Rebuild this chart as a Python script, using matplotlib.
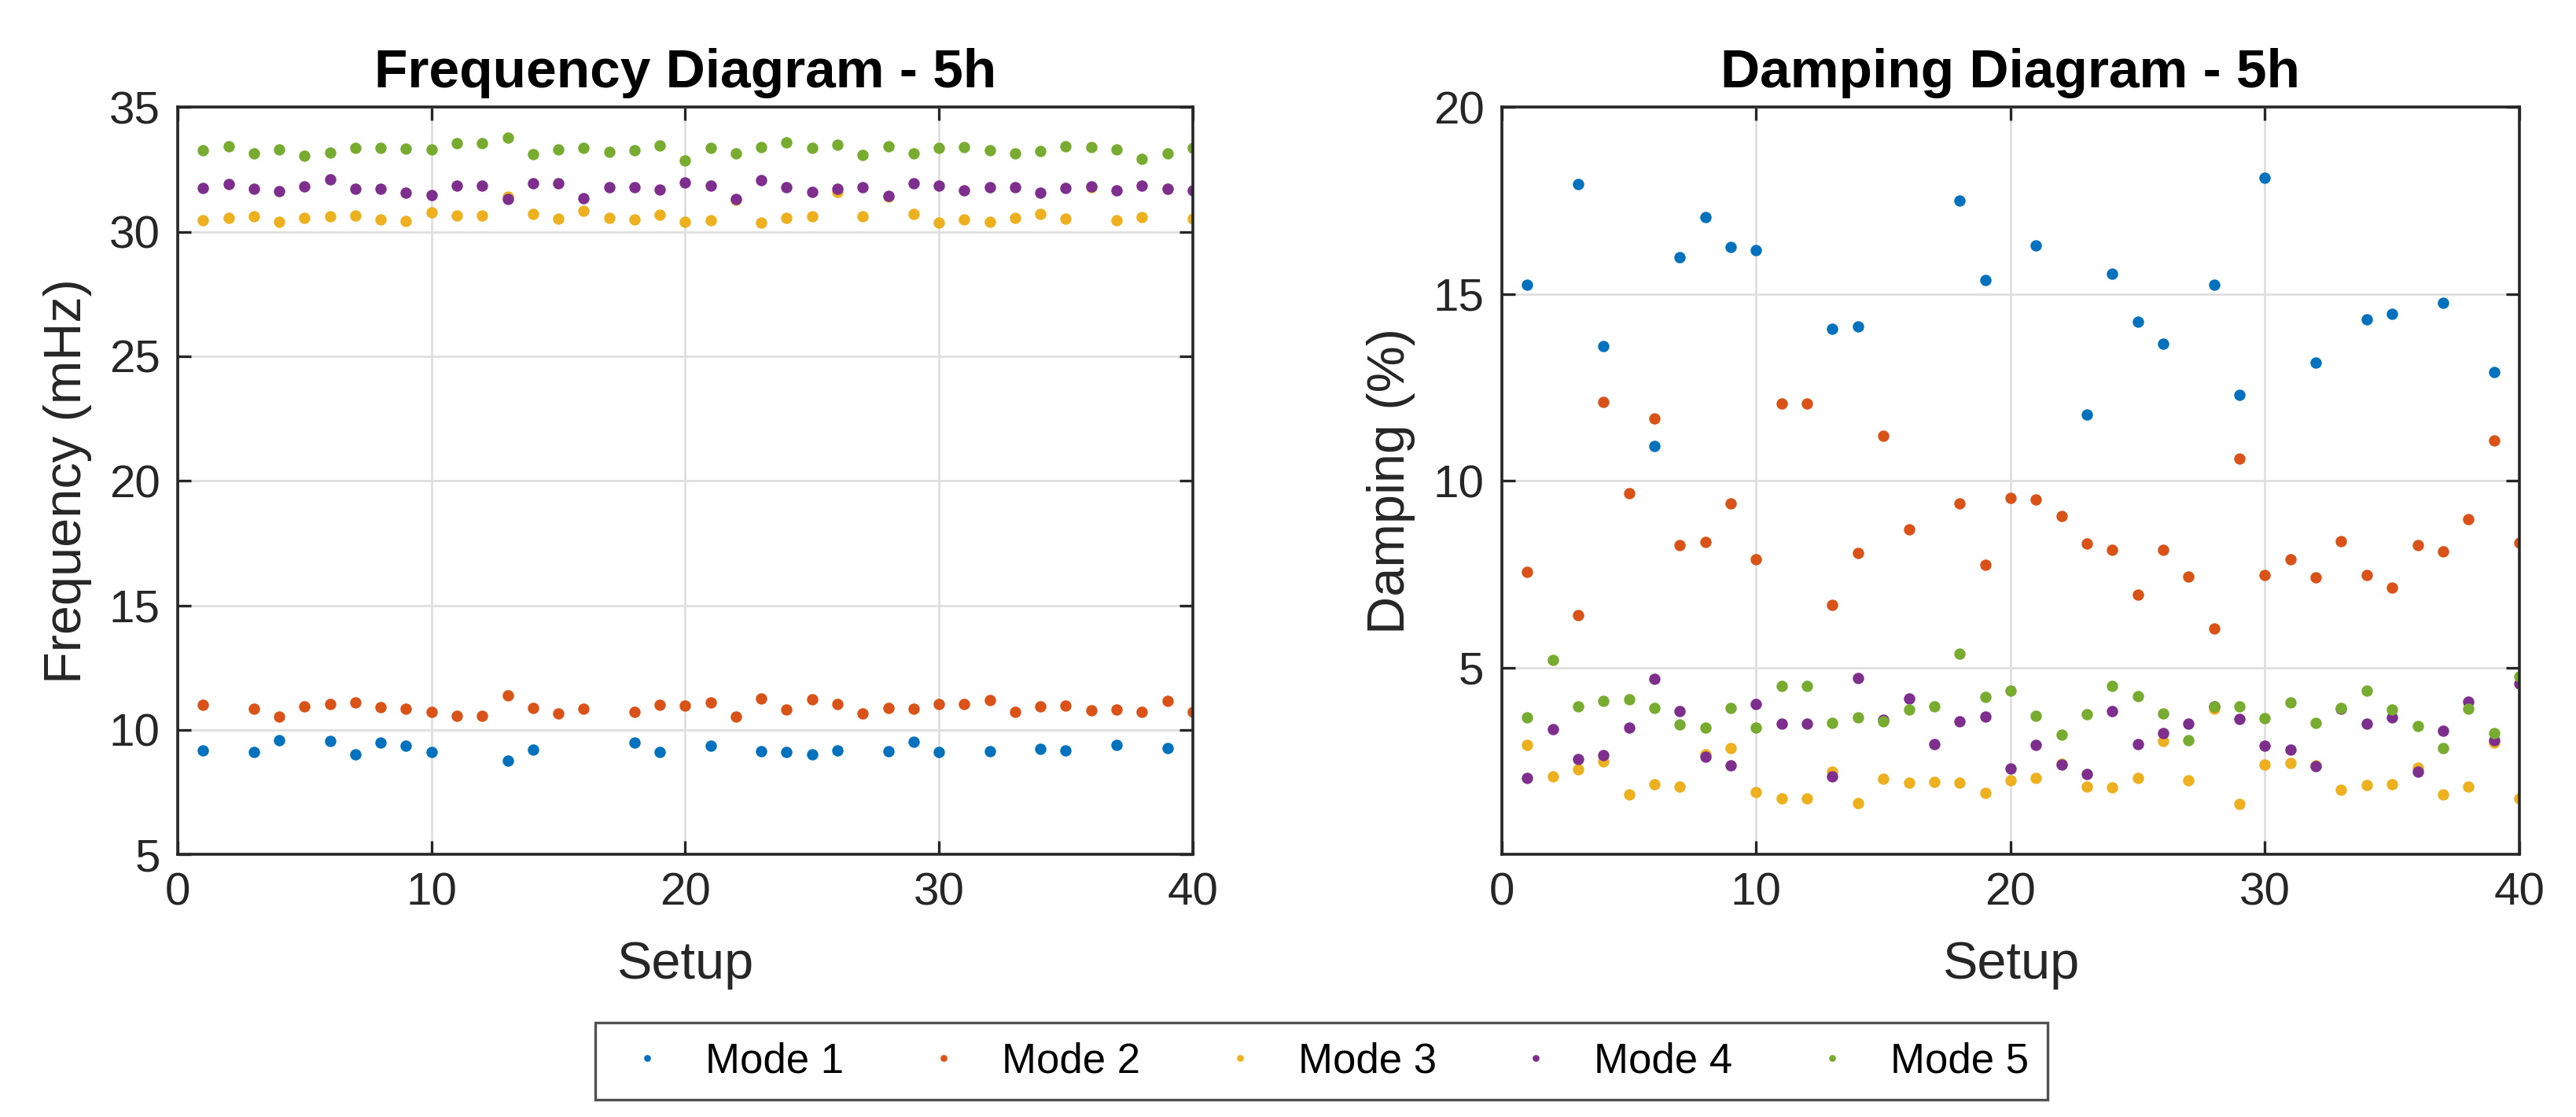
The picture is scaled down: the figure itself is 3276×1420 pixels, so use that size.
import numpy as np
import matplotlib
matplotlib.use('Agg')
import matplotlib.pyplot as plt

nan = np.nan

setup = np.arange(1, 41)

# frequency (mHz) per mode, one value per setup (nan = mode not identified)
freq_mode1 = [9.19, nan, 9.13, 9.58, nan, 9.57, 9.01, 9.48, 9.37, 9.11,
              nan, nan, 8.76, 9.22, nan, nan, nan, 9.50, 9.11, nan,
              9.36, nan, 9.16, 9.13, 9.02, 9.19, nan, 9.15, 9.51, 9.11,
              nan, 9.15, nan, 9.23, 9.18, nan, 9.41, nan, 9.27, nan]
freq_mode2 = [11.00, nan, 10.85, 10.54, 10.94, 11.03, 11.10, 10.92, 10.85, 10.71,
              10.58, 10.58, 11.38, 10.88, 10.67, 10.85, nan, 10.74, 11.01, 10.99,
              11.11, 10.55, 11.27, 10.81, 11.24, 11.05, 10.67, 10.87, 10.85, 11.04,
              11.03, 11.21, 10.71, 10.94, 10.97, 10.80, 10.81, 10.71, 11.18, 10.73]
freq_mode3 = [30.47, 30.56, 30.62, 30.40, 30.57, 30.61, 30.66, 30.49, 30.43, 30.78,
              30.64, 30.64, 31.40, 30.73, 30.52, 30.84, 30.56, 30.51, 30.69, 30.40,
              30.45, 31.28, 30.36, 30.55, 30.62, 31.61, 30.61, 31.42, 30.71, 30.38,
              30.49, 30.41, 30.56, 30.72, 30.52, 31.80, 30.46, 30.58, 31.72, 30.52]
freq_mode4 = [31.75, 31.91, 31.74, 31.63, 31.82, 32.10, 31.73, 31.73, 31.57, 31.47,
              31.86, 31.86, 31.33, 31.95, 31.95, 31.36, 31.79, 31.78, 31.69, 31.97,
              31.86, 31.30, 32.07, 31.78, 31.61, 31.73, 31.78, 31.44, 31.95, 31.85,
              31.67, 31.78, 31.80, 31.57, 31.76, 31.81, 31.65, 31.85, 31.73, 31.65]
freq_mode5 = [33.26, 33.44, 33.16, 33.31, 33.05, 33.19, 33.37, 33.36, 33.33, 33.32,
              33.55, 33.55, 33.78, 33.13, 33.31, 33.37, 33.21, 33.28, 33.45, 32.86,
              33.36, 33.14, 33.39, 33.60, 33.36, 33.48, 33.07, 33.43, 33.16, 33.36,
              33.41, 33.26, 33.16, 33.25, 33.43, 33.41, 33.31, 32.94, 33.14, 33.38]

# damping (%) per mode
damp_mode1 = [15.25, nan, 17.95, 13.61, nan, 10.93, 15.98, 17.06, 16.26, 16.18,
              nan, nan, 14.07, 14.13, nan, nan, nan, 17.50, 15.37, nan,
              16.30, nan, 11.78, 15.54, 14.26, 13.67, nan, 15.25, 12.30, 18.11,
              nan, 13.17, nan, 14.32, 14.48, nan, 14.77, nan, 12.91, nan]
damp_mode2 = [7.56, nan, 6.40, 12.12, 9.66, 11.68, 8.27, 8.36, 9.39, 7.90,
              12.08, 12.08, 6.69, 8.08, 11.20, 8.71, nan, 9.40, 7.76, 9.55,
              9.51, 9.05, 8.32, 8.16, 6.96, 8.16, 7.44, 6.04, 10.60, 7.47,
              7.90, 7.42, 8.38, 7.47, 7.14, 8.27, 8.12, 8.97, 11.09, 8.34]
damp_mode3 = [2.93, 2.09, 2.29, 2.50, 1.61, 1.89, 1.81, 2.67, 2.85, 1.66,
              1.50, 1.50, 2.21, 1.38, 2.02, 1.92, 1.94, 1.93, 1.64, 1.99,
              2.04, 2.43, 1.81, 1.79, 2.04, 3.04, 1.98, 3.90, 1.35, 2.41,
              2.44, 2.38, 1.73, 1.85, 1.88, 2.33, 1.60, 1.82, 2.99, 1.51]
damp_mode4 = [2.04, 3.35, 2.56, 2.65, 3.39, 4.70, 3.84, 2.61, 2.38, 4.03,
              3.50, 3.50, 2.10, 4.73, 3.60, 4.18, 2.96, 3.57, 3.70, 2.31,
              2.93, 2.40, 2.15, 3.84, 2.95, 3.25, 3.51, 3.97, 3.63, 2.91,
              2.81, 2.36, 3.90, 3.51, 3.66, 2.21, 3.31, 4.10, 3.06, 4.58]
damp_mode5 = [3.68, 5.20, 3.96, 4.12, 4.16, 3.92, 3.47, 3.39, 3.92, 3.40,
              4.52, 4.52, 3.52, 3.66, 3.57, 3.89, 3.97, 5.37, 4.21, 4.39,
              3.71, 3.20, 3.75, 4.51, 4.23, 3.77, 3.05, 3.97, 3.97, 3.65,
              4.06, 3.53, 3.92, 4.38, 3.89, 3.44, 2.85, 3.91, 3.25, 4.77]

mode_names = ['Mode 1', 'Mode 2', 'Mode 3', 'Mode 4', 'Mode 5']
colors = ['#0072BD', '#D95319', '#EDB120', '#7E2F8E', '#77AC30']

freq = [freq_mode1, freq_mode2, freq_mode3, freq_mode4, freq_mode5]
damp = [damp_mode1, damp_mode2, damp_mode3, damp_mode4, damp_mode5]

plt.rcParams['font.family'] = ['Liberation Sans', 'DejaVu Sans']

fig = plt.figure(figsize=(16.38, 7.1), dpi=200)
ax1 = fig.add_axes([0.069, 0.235, 0.394, 0.669])
ax2 = fig.add_axes([0.583, 0.235, 0.395, 0.669])

dark = '#262626'


def style_axes(ax):
    ax.grid(True, color='#dfdfdf', linewidth=1.0)
    ax.set_axisbelow(True)
    for s in ax.spines.values():
        s.set_color(dark)
        s.set_linewidth(1.3)
    ax.tick_params(direction='in', length=6, width=1.2, colors=dark,
                   labelsize=21, top=True, right=True, pad=8)
    ax.set_xlim(0, 40)
    ax.set_xticks([0, 10, 20, 30, 40])


handles = []
for i in range(5):
    h, = ax1.plot(setup, freq[i], 'o', color=colors[i], markersize=5.2,
                  markeredgewidth=0, label=mode_names[i])
    handles.append(h)
    ax2.plot(setup, damp[i], 'o', color=colors[i], markersize=5.2,
             markeredgewidth=0)

style_axes(ax1)
ax1.set_ylim(5, 35)
ax1.set_yticks([5, 10, 15, 20, 25, 30, 35])
ax1.set_xlabel('Setup', fontsize=24, color=dark, labelpad=12)
ax1.set_ylabel('Frequency (mHz)', fontsize=24, color=dark, labelpad=8)
ax1.set_title('Frequency Diagram - 5h', fontsize=25, fontweight='bold', pad=9)

style_axes(ax2)
ax2.set_ylim(0, 20)
ax2.set_yticks([5, 10, 15, 20])
ax2.set_xlabel('Setup', fontsize=24, color=dark, labelpad=12)
ax2.set_ylabel('Damping (%)', fontsize=24, color=dark, labelpad=8)
ax2.set_title('Damping Diagram - 5h', fontsize=25, fontweight='bold', pad=9)

leg = fig.legend(handles=handles, loc='center', bbox_to_anchor=(0.513, 0.05),
                 ncol=5, fontsize=19, frameon=True, fancybox=False,
                 edgecolor=dark, handletextpad=0.6, columnspacing=1.6,
                 markerscale=0.6, borderpad=0.45, handlelength=1.6)
leg.get_frame().set_linewidth(1.2)

plt.savefig('out.png', dpi=200)
